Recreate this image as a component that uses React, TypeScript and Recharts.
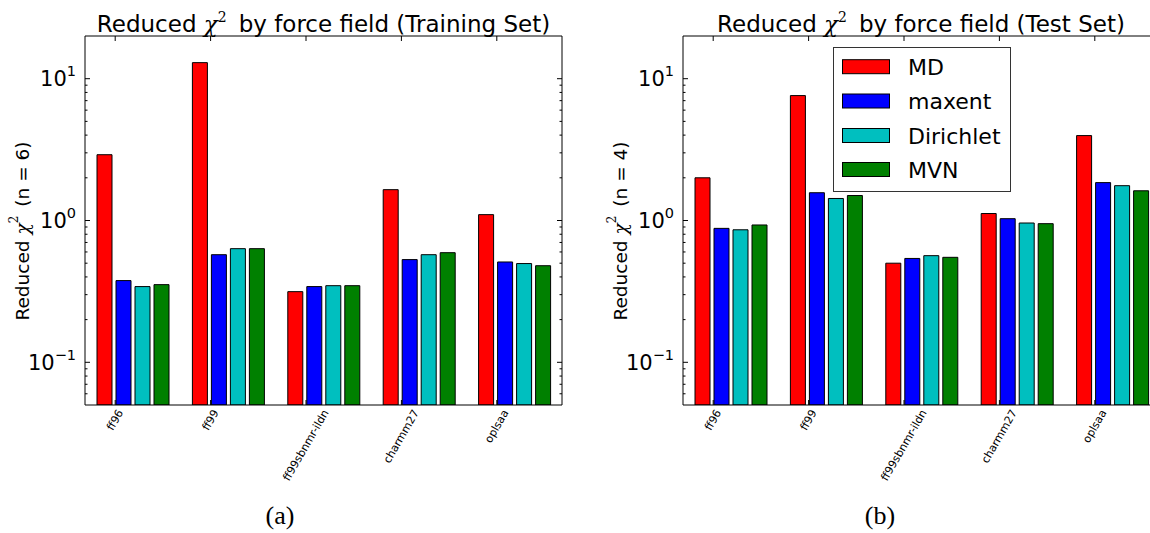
import React from 'react';
import { BarChart, Bar, XAxis, YAxis, Legend } from 'recharts';

const categories = ['ff96', 'ff99', 'ff99sbnmr-ildn', 'charmm27', 'oplsaa'];
const seriesNames = ['MD', 'maxent', 'Dirichlet', 'MVN'];
const seriesColors = ['#ff0000', '#0000ff', '#00bfbf', '#008000'];

const trainMD = [2.91, 12.98, 0.315, 1.65, 1.1];
const trainMaxent = [0.377, 0.574, 0.342, 0.53, 0.51];
const trainDirichlet = [0.342, 0.633, 0.347, 0.574, 0.497];
const trainMVN = [0.353, 0.633, 0.347, 0.593, 0.48];

const testMD = [2.0, 7.6, 0.5, 1.12, 3.97];
const testMaxent = [0.88, 1.57, 0.54, 1.03, 1.85];
const testDirichlet = [0.86, 1.43, 0.565, 0.96, 1.76];
const testMVN = [0.93, 1.5, 0.55, 0.95, 1.62];

const majorTicks = [0.1, 1, 10];
const minorTicks = [0.06, 0.07, 0.08, 0.09, 0.2, 0.3, 0.4, 0.5, 0.6, 0.7, 0.8, 0.9, 2, 3, 4, 5, 6, 7, 8, 9];
const yDomain = [0.05, 20];
const allTicks = [...majorTicks, ...minorTicks].sort((a, b) => a - b);

const BAR_SIZE = 15;
const BAR_GAP = 4;
const TICK_OFFSET = BAR_SIZE + BAR_GAP / 2 + 0.5;
const XTICK_FONT = 11;

const buildData = (a: number[], b: number[], c: number[], d: number[]) =>
  categories.map((name, i) => ({ name, MD: a[i], maxent: b[i], Dirichlet: c[i], MVN: d[i] }));

const trainData = buildData(trainMD, trainMaxent, trainDirichlet, trainMVN);
const testData = buildData(testMD, testMaxent, testDirichlet, testMVN);

let measureCtx: CanvasRenderingContext2D | null = null;
function measureText(s: string, font: string): number {
  if (!measureCtx) {
    const c = document.createElement('canvas');
    measureCtx = c.getContext('2d');
  }
  if (!measureCtx) return s.length * 6;
  measureCtx.font = font;
  return measureCtx.measureText(s).width;
}

const isMajor = (v: number) => majorTicks.some((m) => Math.abs(m - v) < 1e-9);

function LeftYTick(props: any) {
  const { x, y, payload } = props;
  const v = payload.value;
  const major = isMajor(v);
  const exp = Math.round(Math.log10(v));
  return (
    <g>
      <line x1={x} x2={x + (major ? 5 : 2.5)} y1={y} y2={y} stroke="#000" strokeWidth={1} />
      {major && (
        <text x={x - 9} y={y + 7.5} textAnchor="end" fontFamily="DejaVu Sans" fontSize={21} fill="#000">
          <tspan>10</tspan>
          <tspan fontSize={14.5} dy={-10}>{exp < 0 ? '\u2212' + Math.abs(exp) : String(exp)}</tspan>
        </text>
      )}
    </g>
  );
}

function RightYTick(props: any) {
  const { x, y, payload } = props;
  const major = isMajor(payload.value);
  return <line x1={x} x2={x - (major ? 5 : 2.5)} y1={y} y2={y} stroke="#000" strokeWidth={1} />;
}

function BottomXTick(props: any) {
  const { x, y, payload } = props;
  const tx = x - TICK_OFFSET;
  const label = String(payload.value);
  const L = measureText(label, `${XTICK_FONT}px "DejaVu Sans"`);
  const px = tx + 0.25 * L;
  const py = y + 3 + XTICK_FONT / 4;
  return (
    <g>
      <line x1={tx} x2={tx} y1={y} y2={y - 5} stroke="#000" strokeWidth={1} />
      <text
        x={px}
        y={py}
        textAnchor="end"
        dominantBaseline="central"
        transform={`rotate(-60 ${px} ${py})`}
        fontFamily="DejaVu Sans"
        fontSize={XTICK_FONT}
        fill="#000"
      >
        {label}
      </text>
    </g>
  );
}

function TopXTick(props: any) {
  const { x, y } = props;
  const tx = x - TICK_OFFSET;
  return <line x1={tx} x2={tx} y1={y} y2={y + 5} stroke="#000" strokeWidth={1} />;
}

function LegendBox(props: any) {
  const payload = [...(props.payload || [])].sort(
    (a: any, b: any) => seriesNames.indexOf(String(a.value)) - seriesNames.indexOf(String(b.value))
  );
  const rowY = [19.7, 54, 88.5, 122.5];
  return (
    <svg width={178} height={145} style={{ display: 'block' }}>
      <rect x={0.5} y={0.5} width={177} height={144} fill="#fff" stroke="#333" strokeWidth={1} />
      {payload.map((e: any, i: number) => (
        <g key={String(e.value)}>
          <rect x={9.5} y={rowY[i] - 7} width={47} height={14} fill={e.color} stroke="#000" strokeWidth={1} />
          <text x={75} y={rowY[i] + 8} fontFamily="DejaVu Sans" fontSize={22} fill="#000">
            {e.value}
          </text>
        </g>
      ))}
    </svg>
  );
}

function Panel(props: { data: any[]; width: number; yWidth: number; right: number; legend?: boolean }) {
  const { data, width, yWidth, right, legend } = props;
  return (
    <BarChart
      width={width}
      height={533}
      data={data}
      margin={{ top: 35, right, bottom: 0, left: 0 }}
      barSize={BAR_SIZE}
      barGap={BAR_GAP}
    >
      <XAxis
        xAxisId="bottom"
        dataKey="name"
        orientation="bottom"
        height={128}
        interval={0}
        tickSize={0}
        tickMargin={0}
        tickLine={false}
        axisLine={{ stroke: '#000', strokeWidth: 1 }}
        tick={<BottomXTick />}
      />
      <XAxis
        xAxisId="top"
        dataKey="name"
        orientation="top"
        height={1}
        interval={0}
        tickSize={0}
        tickMargin={0}
        tickLine={false}
        axisLine={{ stroke: '#000', strokeWidth: 1 }}
        tick={<TopXTick />}
      />
      <YAxis
        yAxisId="left"
        orientation="left"
        width={yWidth}
        scale="log"
        type="number"
        domain={yDomain}
        allowDataOverflow
        ticks={allTicks}
        interval={0}
        tickSize={0}
        tickMargin={0}
        tickLine={false}
        axisLine={{ stroke: '#000', strokeWidth: 1 }}
        tick={<LeftYTick />}
      />
      <YAxis
        yAxisId="right"
        orientation="right"
        width={1}
        scale="log"
        type="number"
        domain={yDomain}
        allowDataOverflow
        ticks={allTicks}
        interval={0}
        tickSize={0}
        tickMargin={0}
        tickLine={false}
        axisLine={{ stroke: '#000', strokeWidth: 1 }}
        tick={<RightYTick />}
      />
      {seriesNames.map((s, i) => (
        <Bar
          key={s}
          dataKey={s}
          name={s}
          xAxisId="bottom"
          yAxisId="left"
          fill={seriesColors[i]}
          stroke="#000"
          strokeWidth={1}
          isAnimationActive={false}
        />
      ))}
      {legend && (
        <Legend
          layout="vertical"
          align="center"
          verticalAlign="middle"
          content={<LegendBox />}
          wrapperStyle={{ left: 253, top: 47, width: 178, height: 145 }}
        />
      )}
    </BarChart>
  );
}

function Title(props: { cx: number; set: string }) {
  return (
    <text x={props.cx} y={32} textAnchor="middle" fontFamily="DejaVu Sans" fontSize={23} fill="#000">
      <tspan>Reduced </tspan>
      <tspan fontFamily="DejaVu Serif" fontStyle="italic">χ</tspan>
      <tspan fontFamily="DejaVu Serif" fontSize={14} dy={-10}>2</tspan>
      <tspan dy={10} dx={12}>{`by force field (${props.set})`}</tspan>
    </text>
  );
}

function YLabel(props: { cx: number; n: number }) {
  const cy = 231;
  return (
    <text
      x={props.cx}
      y={cy}
      textAnchor="middle"
      dominantBaseline="central"
      transform={`rotate(-90 ${props.cx} ${cy})`}
      fontFamily="DejaVu Sans"
      fontSize={18.5}
      fill="#000"
    >
      <tspan>Reduced </tspan>
      <tspan fontFamily="DejaVu Serif" fontStyle="italic">χ</tspan>
      <tspan fontFamily="DejaVu Serif" fontSize={12} dy={-8}>2</tspan>
      <tspan dy={8} dx={9}>{`(n = ${props.n})`}</tspan>
    </text>
  );
}

export default function App() {
  return (
    <div
      style={{
        position: 'absolute',
        left: 0,
        top: 0,
        width: 1150,
        height: 533,
        overflow: 'hidden',
        background: '#fff',
      }}
    >
      <div style={{ position: 'absolute', left: 0, top: 0 }}>
        <Panel data={trainData} width={580} yWidth={85} right={17} />
      </div>
      <div style={{ position: 'absolute', left: 580, top: 0 }}>
        <Panel data={testData} width={600} yWidth={103} right={19} legend />
      </div>
      <svg
        width={1150}
        height={533}
        style={{ position: 'absolute', left: 0, top: 0, pointerEvents: 'none' }}
      >
        <Title cx={323.5} set="Training Set" />
        <Title cx={921} set="Test Set" />
        <YLabel cx={22} n={6} />
        <YLabel cx={620} n={4} />
        <text x={280} y={524} textAnchor="middle" fontFamily="Liberation Serif" fontSize={26} fill="#000">
          (a)
        </text>
        <text x={880} y={524} textAnchor="middle" fontFamily="Liberation Serif" fontSize={26} fill="#000">
          (b)
        </text>
      </svg>
    </div>
  );
}
